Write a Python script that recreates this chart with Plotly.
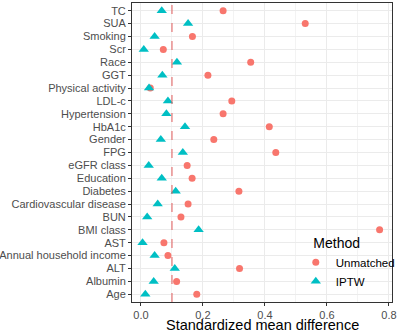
import plotly.graph_objects as go

covariates = ["TC", "SUA", "Smoking", "Scr", "Race", "GGT", "Physical activity",
              "LDL-c", "Hypertension", "HbA1c", "Gender", "FPG", "eGFR class",
              "Education", "Diabetes", "Cardiovascular disease", "BUN", "BMI class",
              "AST", "Annual household income", "ALT", "Albumin", "Age"]
smd_unmatched = [0.265, 0.53, 0.166, 0.072, 0.354, 0.216, 0.03,
                 0.293, 0.265, 0.414, 0.235, 0.435, 0.149,
                 0.165, 0.316, 0.152, 0.129, 0.77,
                 0.074, 0.087, 0.318, 0.115, 0.18]
smd_iptw = [0.067, 0.152, 0.044, 0.009, 0.116, 0.069, 0.026,
            0.087, 0.082, 0.142, 0.064, 0.135, 0.025,
            0.067, 0.112, 0.054, 0.02, 0.186,
            0.005, 0.044, 0.109, 0.041, 0.014]
threshold = 0.1
x_ticks = [0.0, 0.2, 0.4, 0.6, 0.8]
x_tick_labels = ["0.0", "0.2", "0.4", "0.6", "0.8"]
x_title = "Standardized mean difference"
legend_title = "Method"

FONT = "Liberation Sans, Arial, sans-serif"

fig = go.Figure()
fig.add_trace(go.Scatter(
    x=smd_unmatched, y=covariates, mode="markers", name="Unmatched",
    marker=dict(symbol="circle", size=7, color="#F8766D", line=dict(width=0)),
))
fig.add_trace(go.Scatter(
    x=smd_iptw, y=covariates, mode="markers", name="IPTW",
    marker=dict(symbol="triangle-up", size=9, color="#00BFC4", line=dict(width=0)),
))

fig.add_vline(x=threshold, line=dict(color="#E05A5A", width=1, dash="dash"))

fig.add_annotation(
    text=x_title, xref="paper", yref="paper", x=0.5, y=0,
    xanchor="center", yanchor="bottom", yshift=-33, showarrow=False,
    font=dict(family=FONT, size=14.5, color="black"),
)

fig.update_layout(
    width=400, height=335,
    margin=dict(l=132, r=8, t=3, b=33, autoexpand=False),
    paper_bgcolor="white", plot_bgcolor="white",
    font=dict(family=FONT, color="#4D4D4D"),
    xaxis=dict(
        range=[-0.029, 0.81], tickvals=x_ticks, ticktext=x_tick_labels,
        showgrid=True, gridcolor="#EBEBEB", gridwidth=1,
        minor=dict(dtick=0.1, tick0=0, showgrid=True, gridcolor="#F3F3F3", gridwidth=0.6),
        zeroline=False,
        showline=True, linecolor="#333333", linewidth=1, mirror=True,
        ticks="outside", ticklen=3, tickcolor="#333333", tickwidth=1,
        tickfont=dict(size=11, color="#4D4D4D"),
        automargin=False,
    ),
    yaxis=dict(
        categoryorder="array", categoryarray=covariates[::-1],
        tickmode="array", tickvals=covariates, ticktext=covariates,
        range=[-0.6, len(covariates) - 0.4],
        showgrid=True, gridcolor="#EBEBEB", gridwidth=1,
        zeroline=False,
        showline=True, linecolor="#333333", linewidth=1, mirror=True,
        ticks="outside", ticklen=3, tickcolor="#333333", tickwidth=1,
        tickfont=dict(size=11, color="#4D4D4D"),
        automargin=False,
    ),
    legend=dict(
        x=0.63, y=0.242, xanchor="left", yanchor="top",
        bgcolor="rgba(0,0,0,0)",
        title=dict(text="\u00a0\u00a0\u00a0\u00a0" + legend_title,
                   font=dict(size=14, color="black")),
        font=dict(size=11.5, color="black"),
        itemwidth=30, tracegroupgap=0,
    ),
)

fig.write_html("out.html", config={"displayModeBar": False},
               post_script="document.body.style.margin='0';")
